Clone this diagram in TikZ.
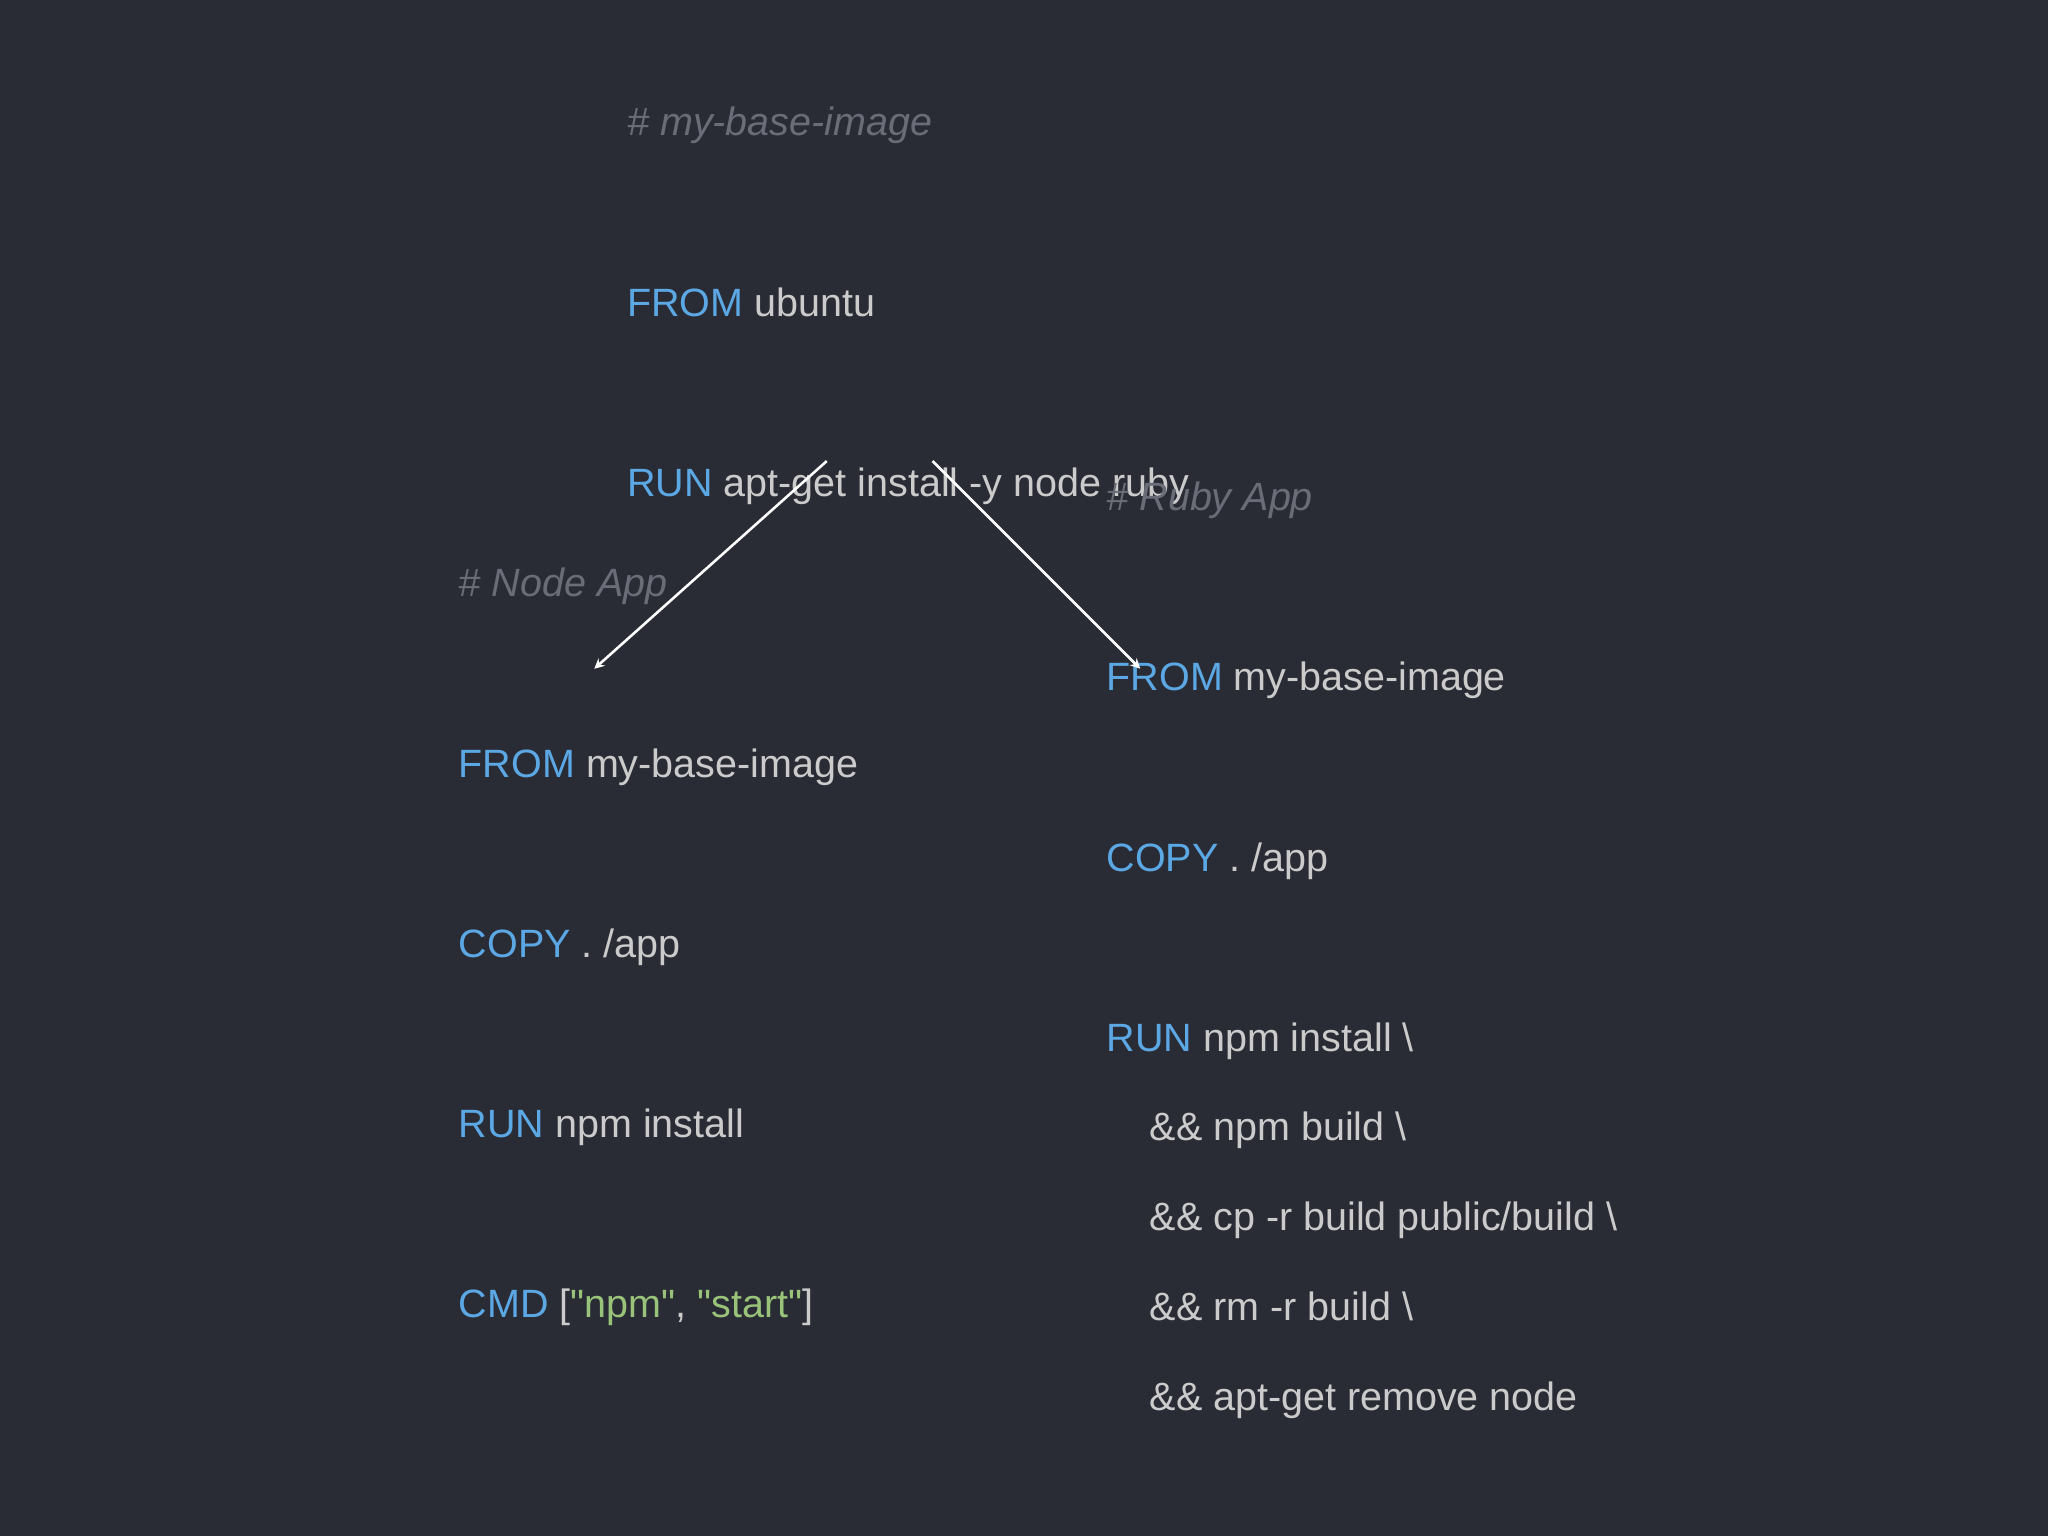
\documentclass[tikz,border=0pt]{standalone}
\usepackage{fontspec}
\setmainfont{Liberation Sans}
\newfontfamily\plainfont{Liberation Sans}
\definecolor{bg}{HTML}{2A2C35}
\definecolor{kw}{HTML}{5BA8E5}
\definecolor{tx}{HTML}{CBCBCB}
\definecolor{cm}{HTML}{6A6D78}
\definecolor{st}{HTML}{98C379}
\newcommand{\dq}{{\plainfont"}}
\begin{document}
\begin{tikzpicture}[x=0.025cm,y=-0.025cm,
  code/.style={anchor=base west,inner sep=0pt,text=tx,font=\fontsize{21.5}{24}\selectfont},
  cmt/.style={code,text=cm,font=\fontsize{21.5}{24}\selectfont\itshape},
  arr/.style={draw=white,line width=1.4pt,-stealth}]
\fill[bg] (0,0) rectangle (1568,1176);
\node[cmt] (c1) at (480,104) {\# my-base-image};
\node[code] (b1) at (480,242) {\textcolor{kw}{FROM} ubuntu};
\node[code] (b2) at (480,380) {\textcolor{kw}{RUN} apt-get install -y node ruby};
\node[cmt] (c2) at (847,391) {\# Ruby App};
\node[cmt] (c3) at (351,457) {\# Node App};
\node[code] (r1) at (847,529) {\textcolor{kw}{FROM} my-base-image};
\node[code] (r2) at (847,667) {\textcolor{kw}{COPY} . /app};
\node[code] (r3) at (847,805) {\textcolor{kw}{RUN} npm install \textbackslash};
\node[code] (r4) at (880,873) {\&\& npm build \textbackslash};
\node[code] (r5) at (880,942) {\&\& cp -r build public/build \textbackslash};
\node[code] (r6) at (880,1011) {\&\& rm -r build \textbackslash};
\node[code] (r7) at (880,1080) {\&\& apt-get remove node};
\node[code] (l1) at (351,595) {\textcolor{kw}{FROM} my-base-image};
\node[code] (l2) at (351,733) {\textcolor{kw}{COPY} . /app};
\node[code] (l3) at (351,871) {\textcolor{kw}{RUN} npm install};
\node[code] (l4) at (351,1009) {\textcolor{kw}{CMD} [\textcolor{st}{\dq npm\dq}, \textcolor{st}{\dq start\dq}]};
\coordinate (a1s) at (633,353);
\coordinate (a1e) at (455,512);
\coordinate (a2s) at (714,353);
\coordinate (a2e) at (873,512);
\draw[arr] (a1s) -- (a1e);
\draw[arr] (a2s) -- (a2e);
\end{tikzpicture}
\end{document}
